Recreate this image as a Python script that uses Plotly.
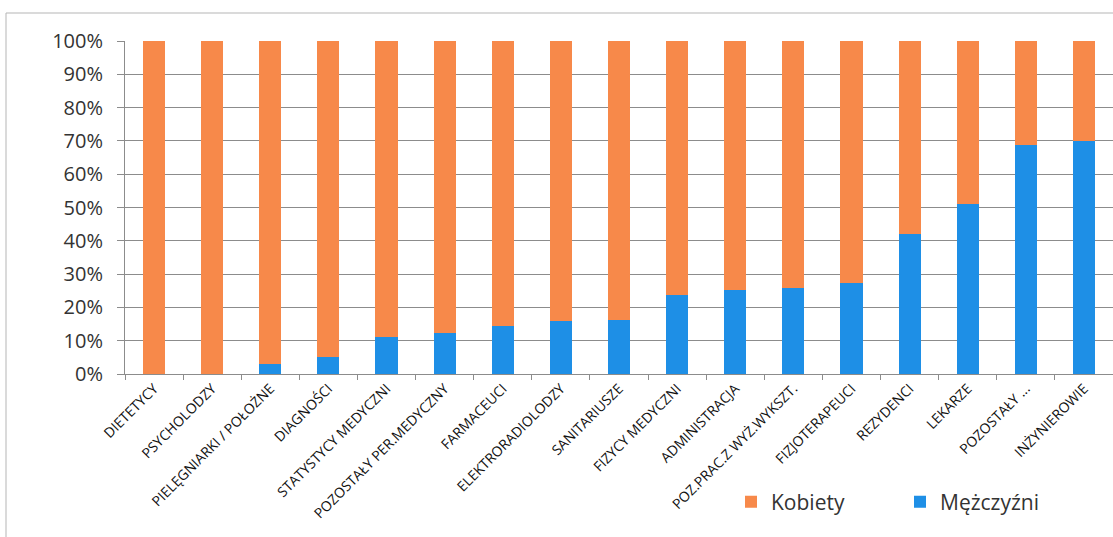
import plotly.graph_objects as go

categories = ["DIETETYCY", "PSYCHOLODZY", "PIELĘGNIARKI / POŁOŻNE", "DIAGNOŚCI",
              "STATYSTYCY MEDYCZNI", "POZOSTAŁY PER.MEDYCZNY", "FARMACEUCI",
              "ELEKTRORADIOLODZY", "SANITARIUSZE", "FIZYCY MEDYCZNI", "ADMINISTRACJA",
              "POZ.PRAC.Z WYŻ.WYKSZT.", "FIZJOTERAPEUCI", "REZYDENCI", "LEKARZE",
              "POZOSTAŁY ...", "INŻYNIEROWIE"]
men_pct = [0, 0, 3, 5, 11, 12.4, 14.4, 15.8, 16.1, 23.7, 25.2, 25.8, 27.4, 42, 51, 68.8, 70]
women_pct = [100 - v for v in men_pct]
y_ticks = [0, 10, 20, 30, 40, 50, 60, 70, 80, 90, 100]
y_tick_labels = [f"{v}%" for v in y_ticks]

BLUE = "#1E8FE6"
ORANGE = "#F7894A"

fig = go.Figure()
fig.add_trace(go.Bar(x=categories, y=men_pct, name="Mężczyźni", marker_color=BLUE,
                     marker_line_width=0, width=0.38))
fig.add_trace(go.Bar(x=categories, y=women_pct, name="Kobiety", marker_color=ORANGE,
                     marker_line_width=0, width=0.38))

W, H = 1113, 537
L, R, T, B = 125, 0, 41, 163
pw, ph = W - L - R, H - T - B


def px(x):
    return (x - L) / pw


def py(y):
    return (H - B - y) / ph


fig.update_layout(
    width=W, height=H,
    margin=dict(l=L, r=R, t=T, b=B),
    barmode="stack",
    paper_bgcolor="white", plot_bgcolor="white",
    font=dict(family="Open Sans, sans-serif", color="#333333"),
    showlegend=True,
    legend=dict(orientation="h", traceorder="reversed", x=px(731), y=py(502),
                xanchor="left", yanchor="middle",
                font=dict(size=21, color="#333333", family="Open Sans, sans-serif"),
                entrywidth=124, bgcolor="rgba(0,0,0,0)"),
    xaxis=dict(tickangle=-45, tickfont=dict(size=14, color="#111111",
                                             family="Open Sans, sans-serif"),
               showline=True, linecolor="#8c8c8c", linewidth=1,
               ticks="outside", ticklen=5, tickcolor="#8c8c8c", tickson="boundaries",
               showgrid=False, range=[-0.5, 16.5], fixedrange=True),
    yaxis=dict(range=[0, 100], tickvals=y_ticks, ticktext=y_tick_labels,
               tickfont=dict(size=20, color="#333333", family="Open Sans, sans-serif"),
               showgrid=True, gridcolor="#8c8c8c", gridwidth=1,
               showline=True, linecolor="#8c8c8c", linewidth=1,
               ticks="outside", ticklen=7, tickcolor="#8c8c8c",
               ticklabelstandoff=10, zeroline=False, fixedrange=True),
    shapes=[dict(type="rect", xref="paper", yref="paper",
                 x0=px(6), x1=px(1120), y0=py(560), y1=py(13),
                 line=dict(color="#b5b5b5", width=1), fillcolor="rgba(0,0,0,0)",
                 layer="below")],
)

fig.write_html("out.html")
